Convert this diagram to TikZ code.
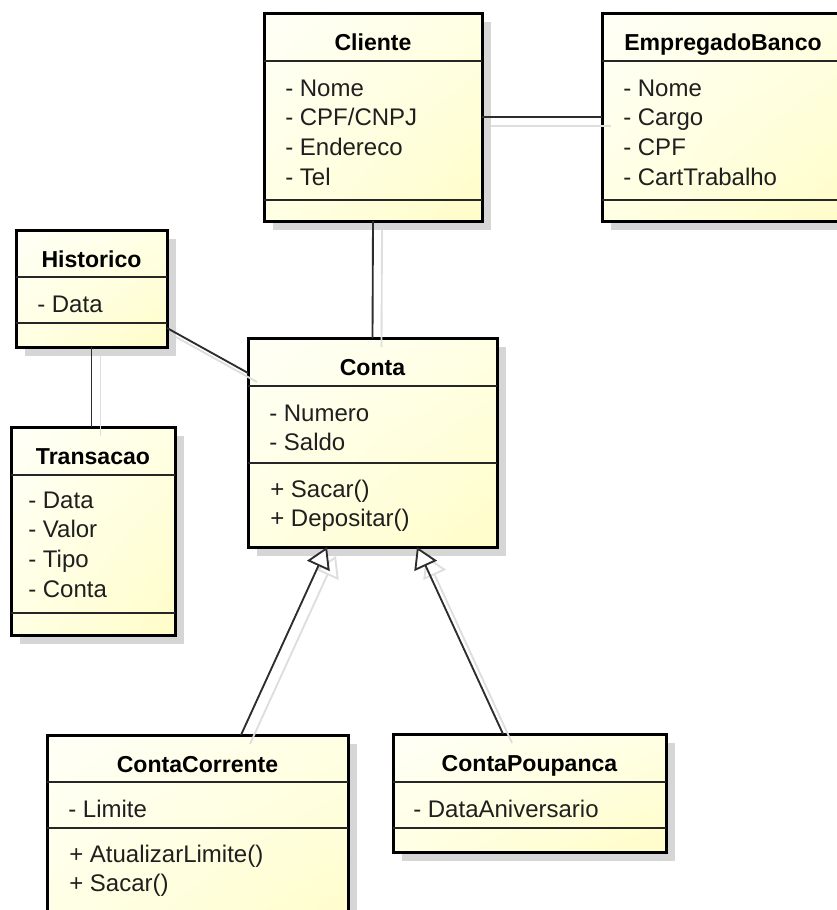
\documentclass[tikz,border=0pt]{standalone}
\usepackage{fontspec}
\setmainfont{Liberation Sans}
\usetikzlibrary{arrows.meta,calc,shadows,shadings}

\definecolor{paleA}{RGB}{255,255,247}
\definecolor{paleB}{RGB}{255,255,228}
\definecolor{paleC}{RGB}{255,253,200}
\definecolor{edge}{RGB}{45,45,45}
\definecolor{ghost}{RGB}{222,222,222}

\tikzset{
  classbox/.style={draw=black, line width=2.25pt, inner sep=0pt, outer sep=0pt,
    anchor=north west,
    upper left=paleA, upper right=paleB, lower left=paleB, lower right=paleC,
    drop shadow={shadow xshift=6.75pt, shadow yshift=-6.75pt,
      fill=black!16, opacity=1}},
  divider/.style={draw=black!85, line width=1.1pt},
  title/.style={font=\bfseries\fontsize{17.3}{20}\selectfont, anchor=base,
    inner sep=0pt},
  member/.style={font=\fontsize{18}{22}\selectfont, anchor=base west,
    inner sep=0pt, text=black!88},
  assoc/.style={draw=edge, line width=1.4pt},
  gen/.style={assoc, -{Triangle[length=15.6pt, width=18.5pt, fill=white]}},
  ghostline/.style={draw=ghost, line width=1.4pt},
  ghostgen/.style={ghostline, -{Triangle[open, length=15.6pt, width=18.5pt]}},
}

% class box: name, left x, top y, width, height, divider 1, divider 2, title
\newcommand\umlclass[8]{%
  \node[classbox, minimum width={#4*0.75pt}, minimum height={#5*0.75pt}]
    (#1) at (#2,#3) {};
  \draw[divider] (#2,#6) -- ({#2+#4},#6);
  \draw[divider] (#2,#7) -- ({#2+#4},#7);
  \node[title] (#1-title) at ({#2+#4/2},{#3+37}) {#8};
}
% member lines: name prefix, left x, first baseline y, list of lines
\newcommand\umlmembers[4]{%
  \foreach \m [count=\k] in {#4}
    \node[member] (#1-\k) at (#2,{#3+(\k-1)*29.7}) {\m};
}

\begin{document}
\begin{tikzpicture}[x=0.75pt, y=-0.75pt]
  \useasboundingbox (0,0) rectangle (837,910);
  \clip (0,0) rectangle (837,910);

  % classes
  \umlclass{cliente}{264}{13}{218}{208}{61}{200}{Cliente}
  \umlmembers{cliente-attr}{285}{96}{{- Nome},{- CPF/CNPJ},{- Endereco},{- Tel}}

  \umlclass{empregado}{602}{13}{242}{208}{61}{200}{EmpregadoBanco}
  \umlmembers{empregado-attr}{623}{96}{{- Nome},{- Cargo},{- CPF},{- CartTrabalho}}

  \umlclass{historico}{16}{230}{151}{117}{277}{323}{Historico}
  \umlmembers{historico-attr}{37}{312}{{- Data}}

  \umlclass{transacao}{11}{427}{164}{208}{475}{613}{Transacao}
  \umlmembers{transacao-attr}{28}{508}{{- Data},{- Valor},{- Tipo},{- Conta}}

  \umlclass{conta}{248}{338}{249}{209}{386}{463}{Conta}
  \umlmembers{conta-attr}{269}{421}{{- Numero},{- Saldo}}
  \umlmembers{conta-op}{270}{497}{{+ Sacar()},{+ Depositar()}}

  \umlclass{corrente}{47}{735}{301}{205}{782}{828}{ContaCorrente}
  \umlmembers{corrente-attr}{68}{817}{{- Limite}}
  \umlmembers{corrente-op}{69}{862}{{+ AtualizarLimite()},{+ Sacar()}}

  \umlclass{poupanca}{393}{734}{273}{118}{782}{828}{ContaPoupanca}
  \umlmembers{poupanca-attr}{413}{817}{{- DataAniversario}}

  % connector end points on the class borders
  \coordinate (hist-out)  at ($(historico.south east)+(0,-19)$);
  \coordinate (conta-in)  at ($(conta.north west)+(0,35)$);
  \coordinate (cc-top)    at ($(corrente.north west)+(194,0)$);
  \coordinate (cp-top)    at ($(poupanca.north west)+(110,0)$);
  \coordinate (conta-g1)  at ($(conta.south west)+(79,0)$);
  \coordinate (conta-g2)  at ($(conta.south west)+(169,0)$);

  % faint offset copies of the connectors
  \begin{scope}[transform canvas={shift={(9,9)}}]
    \draw[ghostline] (cliente.east) -- (empregado.west);
    \draw[ghostline] (cliente.south) -- (conta.north);
    \draw[ghostline] (historico.south) -- (historico.south |- transacao.north);
    \draw[ghostline] (hist-out) -- (conta-in);
    \draw[ghostgen] (cc-top) -- (conta-g1);
    \draw[ghostgen] (cp-top) -- (conta-g2);
  \end{scope}

  % associations
  \draw[assoc] (cliente.east) -- (empregado.west);
  \draw[assoc] (cliente.south) -- (conta.north);
  \draw[assoc] (historico.south) -- (historico.south |- transacao.north);
  \draw[assoc] (hist-out) -- (conta-in);

  % generalizations
  \draw[gen] (cc-top) -- (conta-g1);
  \draw[gen] (cp-top) -- (conta-g2);
\end{tikzpicture}
\end{document}
